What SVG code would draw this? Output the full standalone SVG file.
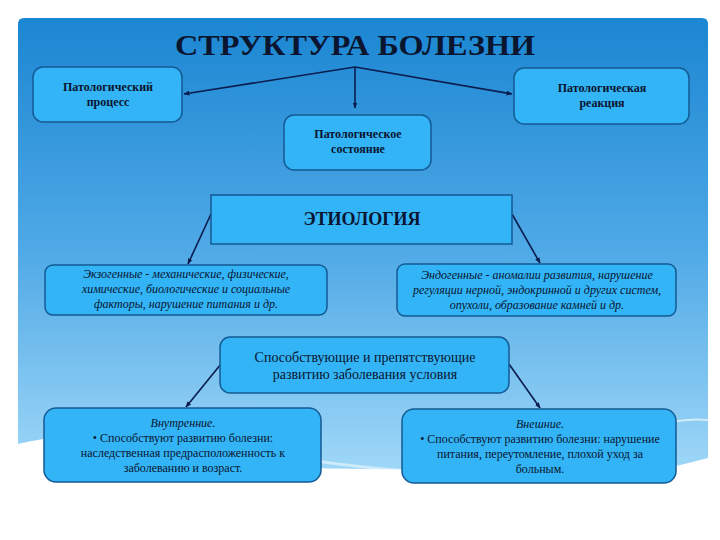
<svg xmlns="http://www.w3.org/2000/svg" width="720" height="540" viewBox="0 0 720 540">
<defs>
<linearGradient id="bg" x1="0" y1="18" x2="0" y2="480" gradientUnits="userSpaceOnUse">
<stop offset="0" stop-color="#1b86d2"/>
<stop offset="0.5" stop-color="#4fa9e6"/>
<stop offset="1" stop-color="#a2d9f8"/>
</linearGradient>
<marker id="ah" viewBox="0 0 10 10" refX="9" refY="5" markerWidth="6" markerHeight="6" orient="auto" markerUnits="userSpaceOnUse">
<path d="M0,1 L10,5 L0,9 Z" fill="#0b1c4e"/>
</marker>
<style>
.box{fill:#33b4f6;stroke:#145a94;stroke-width:1.5}
.t{font-family:"Liberation Serif","DejaVu Serif",serif;fill:#0a1530;text-anchor:middle}
.b{font-weight:bold;font-size:12px}
.i{font-style:italic;font-size:12px}
.n{font-size:12px}
.c{stroke:#0b1c4e;stroke-width:1.6;fill:none}
</style>
</defs>
<rect width="720" height="540" fill="#ffffff"/>
<path d="M24,18 H702 Q708,18 708,24 V458 C670,468 630,478 585,478 C520,478 470,474 430,470 L300,468 C260,455 230,445 200,440 C130,430 70,432 18,444 V24 Q18,18 24,18 Z" fill="url(#bg)"/>
<path d="M230,444 C330,470 480,480 600,474" stroke="#ffffff" stroke-opacity="0.5" stroke-width="3" fill="none"/>
<path d="M640,430 C670,420 690,418 708,420" stroke="#ffffff" stroke-opacity="0.6" stroke-width="2" fill="none"/>
<text x="355" y="55" class="t" font-size="30" font-weight="bold" fill="#08102a" textLength="360" lengthAdjust="spacingAndGlyphs">СТРУКТУРА БОЛЕЗНИ</text>
<g id="connectors">
<path class="c" d="M355,67 L184,94" marker-end="url(#ah)"/>
<path class="c" d="M355,67 L512,94" marker-end="url(#ah)"/>
<path class="c" d="M355,67 L355,108" stroke-width="1" marker-end="url(#ah)"/>
<path class="c" d="M211,214 L188,264" marker-end="url(#ah)"/>
<path class="c" d="M512,214 L540,263" marker-end="url(#ah)"/>
<path class="c" d="M221,364 L186,407" marker-end="url(#ah)"/>
<path class="c" d="M509,364 L540,408" marker-end="url(#ah)"/>
</g>
<g id="n-process">
<rect class="box" x="33" y="67" width="149" height="55" rx="10"/>
<text class="t b" x="108" y="91">Патологический</text>
<text class="t b" x="108" y="106">процесс</text>
</g>
<g id="n-reaction">
<rect class="box" x="514" y="68" width="175" height="56" rx="10"/>
<text class="t b" x="602" y="92">Патологическая</text>
<text class="t b" x="602" y="107">реакция</text>
</g>
<g id="n-state">
<rect class="box" x="284" y="115" width="147" height="55" rx="10"/>
<text class="t b" x="358" y="138">Патологическое</text>
<text class="t b" x="358" y="153">состояние</text>
</g>
<g id="n-etiology">
<rect class="box" x="211" y="195" width="301" height="49" rx="0"/>
<text class="t" x="362" y="225" font-size="18" font-weight="bold">ЭТИОЛОГИЯ</text>
</g>
<g id="n-exo">
<rect class="box" x="45" y="265" width="282" height="50" rx="8"/>
<text class="t i" x="186" y="278">Экзогенные - механические, физические,</text>
<text class="t i" x="186" y="293">химические, биологические и социальные</text>
<text class="t i" x="186" y="308">факторы, нарушение питания и др.</text>
</g>
<g id="n-endo">
<rect class="box" x="397" y="264" width="279" height="52" rx="8"/>
<text class="t i" x="537" y="279">Эндогенные - аномалии развития, нарушение</text>
<text class="t i" x="537" y="294">регуляции нерной, эндокринной и других систем,</text>
<text class="t i" x="537" y="309">опухоли, образование камней и др.</text>
</g>
<g id="n-conditions">
<rect class="box" x="220" y="337" width="289" height="56" rx="10"/>
<text class="t" x="365" y="362" font-size="14">Способствующие и препятствующие</text>
<text class="t" x="365" y="379" font-size="14">развитию заболевания условия</text>
</g>
<g id="n-internal">
<rect class="box" x="44" y="408" width="277" height="74" rx="12"/>
<text class="t i" x="183" y="427">Внутренние.</text>
<text class="t n" x="183" y="442">• Способствуют развитию болезни:</text>
<text class="t n" x="183" y="457">наследственная предрасположенность к</text>
<text class="t n" x="183" y="472">заболеванию и возраст.</text>
</g>
<g id="n-external">
<rect class="box" x="402" y="409" width="274" height="74" rx="12"/>
<text class="t i" x="540" y="428">Внешние.</text>
<text class="t n" x="540" y="443">• Способствуют развитию болезни: нарушение</text>
<text class="t n" x="540" y="458">питания, переутомление, плохой уход за</text>
<text class="t n" x="540" y="473">больным.</text>
</g>
</svg>
